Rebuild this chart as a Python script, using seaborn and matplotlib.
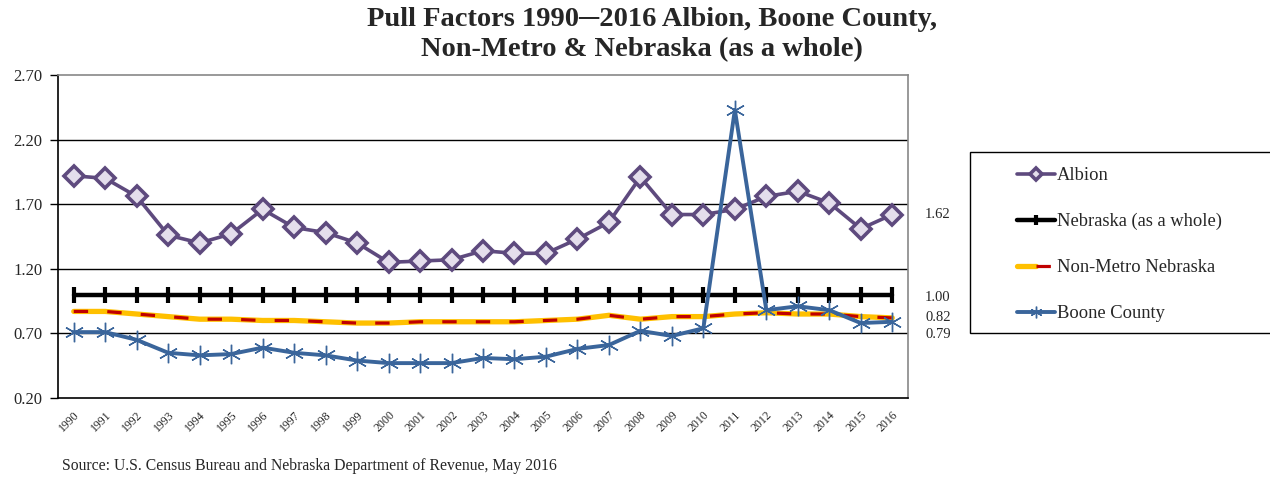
import numpy as np
import pandas as pd
import matplotlib
matplotlib.use("Agg")
import matplotlib.pyplot as plt
import matplotlib.transforms as mtransforms
from matplotlib.legend_handler import HandlerTuple
from matplotlib.patches import Rectangle
from matplotlib.ticker import FixedLocator
import seaborn as sns

# Data
years = [str(y) for y in range(1990, 2017)]
albion = [1.92, 1.90, 1.76, 1.46, 1.40, 1.47, 1.66, 1.52, 1.48, 1.40, 1.25, 1.26, 1.27,
          1.34, 1.32, 1.32, 1.43, 1.56, 1.91, 1.62, 1.62, 1.66, 1.76, 1.80, 1.71, 1.51, 1.62]
nebraska = [1.00] * 27
non_metro = [0.87, 0.87, 0.85, 0.83, 0.81, 0.81, 0.80, 0.80, 0.79, 0.78, 0.78, 0.79, 0.79,
             0.79, 0.79, 0.80, 0.81, 0.84, 0.81, 0.83, 0.83, 0.85, 0.86, 0.85, 0.85, 0.83, 0.82]
boone = [0.71, 0.71, 0.65, 0.55, 0.53, 0.54, 0.59, 0.55, 0.53, 0.49, 0.47, 0.47, 0.47,
         0.51, 0.50, 0.52, 0.58, 0.61, 0.72, 0.68, 0.74, 2.43, 0.88, 0.91, 0.88, 0.78, 0.79]

end_labels = ["1.62", "1.00", "0.82", "0.79"]
end_values = [1.62, 1.00, 0.82, 0.79]
end_offsets = [0, -2, 0, -9]  # points, to keep labels apart

df = pd.DataFrame({"pos": np.arange(len(years)), "Albion": albion, "Nebraska": nebraska,
                   "NonMetro": non_metro, "Boone": boone})

sns.set_theme(style="white")
plt.rcParams["font.family"] = ["Liberation Serif", "DejaVu Serif"]

W, H = 1270, 480
fig = plt.figure(figsize=(12.7, 4.8), dpi=100)
ax = fig.add_axes([58 / W, 1 - 398 / H, 850 / W, 323 / H])

purple = "#5E4A7E"
blue = "#3A659B"

# gridlines
for g in [0.70, 1.20, 1.70, 2.20]:
    ax.axhline(g, color="black", lw=1, zorder=0)

sns.lineplot(data=df, x="pos", y="Albion", ax=ax, color=purple, lw=2.6, marker="D",
             markersize=10, markerfacecolor="#E4DEEC", markeredgecolor=purple,
             markeredgewidth=2.6, zorder=5)
sns.lineplot(data=df, x="pos", y="Nebraska", ax=ax, color="black", lw=3.2, marker="|",
             markersize=12, markeredgewidth=3, markeredgecolor="black", zorder=4)
sns.lineplot(data=df, x="pos", y="NonMetro", ax=ax, color="#FFC000", lw=3.8, zorder=3)
sns.lineplot(data=df, x="pos", y="NonMetro", ax=ax, color="#C00000", lw=2.3,
             dashes=(4.5, 6), zorder=3)
sns.lineplot(data=df, x="pos", y="Boone", ax=ax, color=blue, lw=2.8, marker=(6, 2, 0),
             markersize=14, markeredgewidth=1.0, markeredgecolor=blue, zorder=6)
lines = ax.get_lines()[4:]

ax.set_xlim(-0.5, len(years) - 0.5)
ax.set_ylim(0.2, 2.7)
yt = np.arange(0.2, 2.71, 0.5)
ax.set_yticks(yt)
ax.set_yticklabels([f"{v:.2f}" for v in yt], fontsize=12)
ax.set_xticks(df["pos"])
ax.set_xticklabels(years, rotation=45, ha="right", rotation_mode="anchor", fontsize=8.5)
ax.xaxis.set_minor_locator(FixedLocator(np.arange(-0.5, len(years), 1)))
ax.tick_params(axis="x", which="major", length=0, pad=8)
ax.tick_params(axis="x", which="minor", length=6, width=1, direction="inout", color="black")
ax.tick_params(axis="y", length=6, width=1, color="black", left=True, pad=5)
ax.set_xlabel("")
ax.set_ylabel("")
for s in ["left", "bottom"]:
    ax.spines[s].set_color("black")
    ax.spines[s].set_linewidth(1.2)
for s in ["top", "right"]:
    ax.spines[s].set_color("#888888")
    ax.spines[s].set_linewidth(1.2)

# end-of-line value labels
trans = mtransforms.blended_transform_factory(ax.transAxes, ax.transData)
for lab, v, off in zip(end_labels, end_values, end_offsets):
    ax.annotate(lab, xy=(1.02, v), xycoords=trans, xytext=(0, off), textcoords="offset points",
                va="center", ha="left", fontsize=10.5)

# legend box drawn separately so the right side runs off the figure
fig.patches.append(Rectangle((970 / W, 1 - 333 / H), 320 / W, 181 / H, transform=fig.transFigure,
                             facecolor="white", edgecolor="black", lw=1, zorder=1))
handles = [lines[0], lines[1], (lines[2], lines[3]), lines[4]]
labels = ["Albion", "Nebraska (as a whole)", "Non-Metro Nebraska", "Boone County"]
leg = fig.legend(handles, labels, handler_map={tuple: HandlerTuple(ndivide=None, pad=0)},
                 loc="upper left", bbox_to_anchor=(1017 / W, 1 - 167 / H),
                 fontsize=13.3, frameon=False, labelspacing=1.57, handlelength=2.05,
                 handletextpad=0.1, borderpad=0, borderaxespad=0, markerscale=0.6)
leg.set_zorder(2)

fig.text(652 / W, 1 - 20 / H, "Pull Factors 1990\u25002016 Albion, Boone County,",
         ha="center", va="center", fontsize=20.5, fontweight="bold")
fig.text(642 / W, 1 - 50 / H, "Non-Metro & Nebraska (as a whole)",
         ha="center", va="center", fontsize=20.5, fontweight="bold")
fig.text(62 / W, 1 - 466 / H, "Source: U.S. Census Bureau and Nebraska Department of Revenue, May 2016",
         ha="left", va="center", fontsize=11.3)

fig.savefig("out.png", dpi=100)
